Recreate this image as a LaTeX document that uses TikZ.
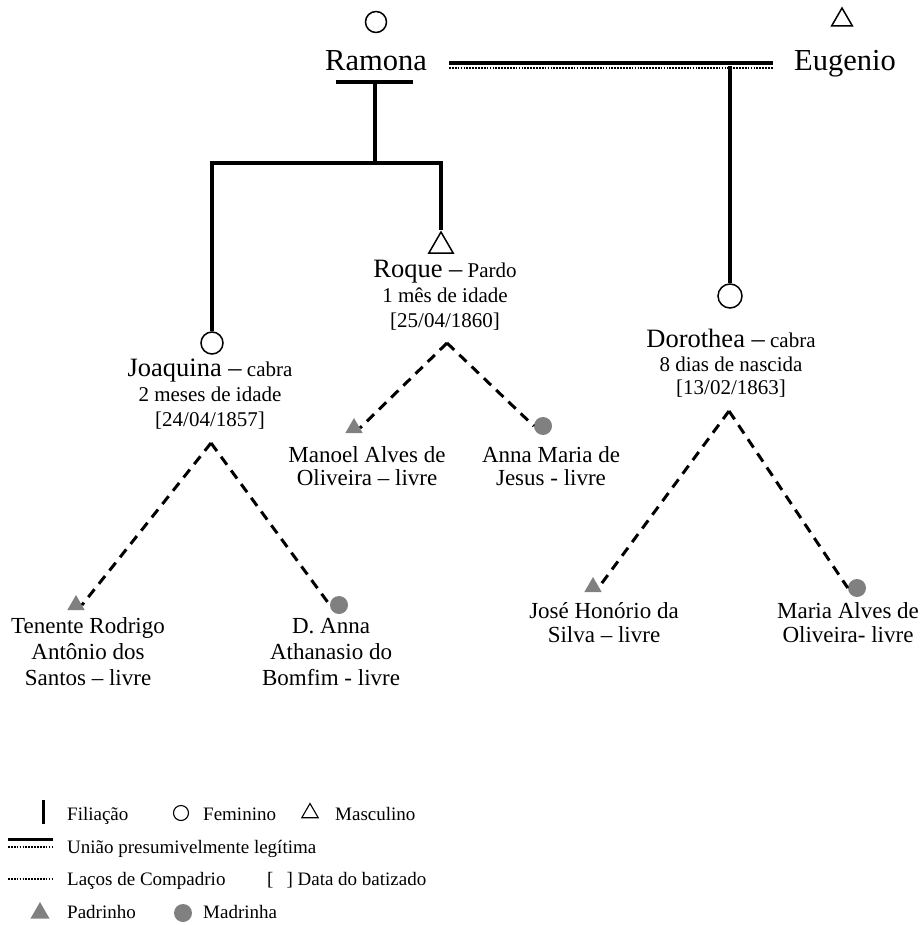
\documentclass[tikz,border=0pt]{standalone}
\usepackage{fontspec}
\setmainfont{Liberation Serif}
\usetikzlibrary{shapes.geometric}

\newcommand{\fs}[2]{\fontsize{#1}{#2}\selectfont}

\definecolor{gray50}{gray}{0.5}
\tikzset{
  fem/.style={circle, draw, line width=1.5pt, minimum size=#1, inner sep=0pt},
  fem/.default=20pt,
  masc/.style={regular polygon, regular polygon sides=3, draw, line width=1.5pt, minimum size=#1, inner sep=0pt},
  masc/.default=26pt,
  padr/.style={regular polygon, regular polygon sides=3, fill=gray50, draw=none, minimum size=20pt, inner sep=0pt},
  madr/.style={circle, fill=gray50, draw=none, minimum size=18pt, inner sep=0pt},
  filia/.style={line width=3.2pt},
  union/.style={line width=3.2pt},
  uniondot/.style={line width=2pt, dash pattern=on 1.7pt off 1.2pt},
  compadrio/.style={line width=3pt, dash pattern=on 10pt off 7pt},
  bigname/.style={font=\fs{30.5}{34}, inner sep=0pt, anchor=base},
  person/.style={align=center, inner sep=0pt, anchor=north, font=\fs{21}{#1}},
  person/.default=25pt,
  godp/.style={align=center, inner sep=0pt, anchor=north, font=\fs{23}{#1}},
  godp/.default=26pt,
  legtext/.style={anchor=base west, inner sep=0pt, font=\fs{19}{22}},
}

\begin{document}
\begin{tikzpicture}[x=1pt, y=-1pt]
\useasboundingbox (0,0) rectangle (920,925);

% --- first generation
\node[fem=21pt] (ramonaS) at (376,22) {};
\node[bigname] (ramona) at (376,71) {Ramona};
\node[masc=24pt] (eugS) at (842,20) {};
\node[bigname] (eugenio) at (845,71) {Eugenio};

% union line
\coordinate (uL) at (449,63);
\coordinate (uR) at (773,63);
\coordinate (uLd) at (449,68.5);
\coordinate (uRd) at (773,68.5);
\draw[union] (uL) -- (uR);
\draw[uniondot] (uLd) -- (uRd);

% Ramona's descent bar
\coordinate (barL) at (336,82);
\coordinate (barR) at (413,82);
\coordinate (barC) at (375,82);
\coordinate (split) at (375,163);
\draw[filia] (barL) -- (barR);
\draw[filia] (barC) -- (split);

% --- children
\node[fem=22pt] (joaqS) at (212,343) {};
\node[person] (joaq) at (210,359)
  {{\fs{26.5}{25}Joaquina –} cabra\\2 meses de idade\\{[24/04/1857]}};

\node[masc=28pt] (roqueS) at (441,246) {};
\node[person] (roque) at (445,259.5)
  {{\fs{26.5}{25}Roque –} Pardo\\1 mês de idade\\{[25/04/1860]}};

\node[fem=24pt] (dorS) at (730,296) {};
\node[person=23.5pt] (dor) at (731,329)
  {{\fs{26.5}{23.5}Dorothea –} cabra\\8 dias de nascida\\{[13/02/1863]}};

\draw[filia] (joaqS.north) |- (split) -| (roqueS.north);
\coordinate (uE) at (730,66);
\draw[filia] (uE) -- (dorS.north);

% --- godparents of Roque
\coordinate (roqueA) at (447,343);
\node[padr] (manS) at (354,428) {};
\node[madr] (annaS) at (543,426) {};
\node[godp=23.5pt] (man) at (367,446) {Manoel Alves de\\Oliveira – livre};
\node[godp=23.5pt] (anna) at (551,446) {Anna Maria de\\Jesus - livre};
\draw[compadrio] (roqueA) -- (manS.east);
\draw[compadrio] (roqueA) -- (annaS.west);

% --- godparents of Joaquina
\coordinate (joaqA) at (211,443);
\node[padr] (tenS) at (76,605) {};
\node[madr] (danS) at (339,605) {};
\node[godp] (ten) at (88,617) {Tenente Rodrigo\\Antônio dos\\Santos – livre};
\node[godp] (dan) at (331,618) {D. Anna\\Athanasio do\\Bomfim - livre};
\draw[compadrio] (joaqA) -- (tenS.east);
\draw[compadrio] (joaqA) -- (danS.west);

% --- godparents of Dorothea
\coordinate (dorA) at (729,411);
\node[padr] (joseS) at (593,587) {};
\node[madr] (mariaS) at (857,588) {};
\node[godp=24pt] (jose) at (604,602) {José Honório da\\Silva – livre};
\node[godp=24pt] (maria) at (848,602) {Maria Alves de\\Oliveira- livre};
\draw[compadrio] (dorA) -- (joseS.east);
\draw[compadrio] (dorA) -- (mariaS.west);

% --- key
\coordinate (kfT) at (43,800);
\coordinate (kfB) at (43,824);
\draw[line width=3pt] (kfT) -- (kfB);
\node[legtext] (kf) at (67,820) {Filiação};
\node[fem=15pt, line width=1.1pt] (kfemS) at (181,813) {};
\node[legtext] (kfem) at (203,820) {Feminino};
\node[masc=19pt, line width=1.1pt] (kmascS) at (310,813) {};
\node[legtext] (kmasc) at (335,820) {Masculino};

\coordinate (kuL) at (8,839.5);
\coordinate (kuR) at (53,839.5);
\coordinate (kuLd) at (8,847);
\coordinate (kuRd) at (53,847);
\draw[line width=2.2pt] (kuL) -- (kuR);
\draw[uniondot] (kuLd) -- (kuRd);
\node[legtext] (ku) at (67,853) {União presumivelmente legítima};

\coordinate (kcL) at (8,879);
\coordinate (kcR) at (53,879);
\draw[uniondot] (kcL) -- (kcR);
\node[legtext] (kc) at (67,885) {Laços de Compadrio};
\node[legtext] (kd) at (267,885) {[\hspace{13pt}] Data do batizado};

\node[padr, minimum size=22pt] (kpS) at (40,913) {};
\node[legtext] (kp) at (67,918.5) {Padrinho};
\node[madr] (kmS) at (183,913) {};
\node[legtext] (km) at (203,918.5) {Madrinha};
\end{tikzpicture}
\end{document}
